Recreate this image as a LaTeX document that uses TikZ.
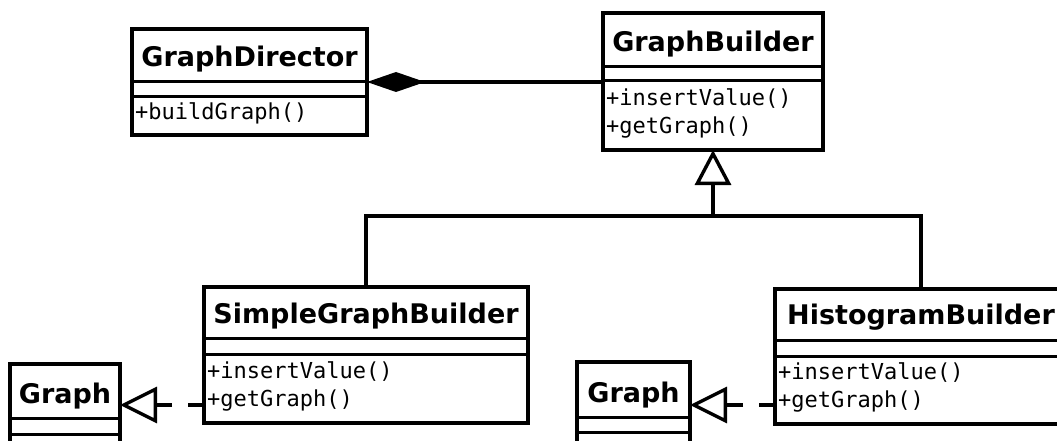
\documentclass[tikz,border=0pt]{standalone}
\usepackage{fontspec}
\setmainfont{DejaVu Sans}
\setmonofont{DejaVu Sans Mono}
\usetikzlibrary{arrows.meta,calc}

\tikzset{
  cls/.style={draw, line width=3.4pt, fill=white, inner sep=0pt, outer sep=0pt, anchor=north west},
  sep/.style={line width=3pt},
  title/.style={font=\bfseries\fontsize{27}{31}\selectfont, inner sep=0pt, anchor=base},
  member/.style={font=\ttfamily\fontsize{22}{26}\selectfont, inner sep=0pt, anchor=base west},
  conn/.style={line width=3.4pt},
  composition/.style={conn, {Diamond[length=58pt, width=20pt]}-},
  generalize/.style={conn, -{Triangle[open, length=35pt, width=36pt, line width=3.4pt]}},
  realize/.style={conn, dash pattern=on 16pt off 16pt,
    -{Triangle[open, length=37pt, width=36pt, line width=3.4pt]}},
}

% horizontal separators of a class box, given as offsets from its top edge
\newcommand\compartments[3]{%
  \draw[sep] ($(#1.north west)+(0,#2)$) -- ($(#1.north east)+(0,#2)$);
  \draw[sep] ($(#1.north west)+(0,#3)$) -- ($(#1.north east)+(0,#3)$);
}

\begin{document}
\begin{tikzpicture}[x=1pt, y=-1pt]
\useasboundingbox (0,0) rectangle (1057,441);
\clip (0,0) rectangle (1057,441);

% class boxes
\node[cls, minimum width=235, minimum height=106] (gd)  at (132,29)  {};
\node[cls, minimum width=220, minimum height=137] (gb)  at (603,13)  {};
\node[cls, minimum width=324, minimum height=136] (sgb) at (204,287) {};
\node[cls, minimum width=292, minimum height=135] (hb)  at (775,289) {};
\node[cls, minimum width=110, minimum height=116] (g1)  at (10,364)  {};
\node[cls, minimum width=113, minimum height=118] (g2)  at (577,362) {};

\compartments{gd}{53}{68}
\compartments{gb}{54}{68}
\compartments{sgb}{51}{67}
\compartments{hb}{51}{67}
\compartments{g1}{54}{70}
\compartments{g2}{55}{70}

% class names
\node[title] (gd-t)  at (249.5,67) {GraphDirector};
\node[title] (gb-t)  at (713,52)   {GraphBuilder};
\node[title] (sgb-t) at (366,323)  {SimpleGraphBuilder};
\node[title] (hb-t)  at (921,324)  {HistogramBuilder};
\node[title] (g1-t)  at (65,403)   {Graph};
\node[title] (g2-t)  at (633.5,402) {Graph};

% operations
\node[member] (gd-m1)  at (135,120) {+buildGraph()};
\node[member] (gb-m1)  at (606,106) {+insertValue()};
\node[member] (gb-m2)  at (606,134) {+getGraph()};
\node[member] (sgb-m1) at (207,378) {+insertValue()};
\node[member] (sgb-m2) at (207,406) {+getGraph()};
\node[member] (hb-m1)  at (778,379) {+insertValue()};
\node[member] (hb-m2)  at (778,407) {+getGraph()};

% composition: director owns a builder
\draw[composition] (gd.east) -- (gd.east -| gb.west);

% generalization tree
\coordinate (join) at ($(gb.south)+(0,66)$);
\draw[generalize] (join) -- (gb.south);
\draw[conn] (sgb.north) |- (join) -| (hb.north);

% realization of the product
\coordinate (r1) at (0,405);
\coordinate (r2) at (0,405);
\draw[realize] (r1 -| sgb.west) -- (r1 -| g1.east);
\draw[realize] (r2 -| hb.west) -- (r2 -| g2.east);
\end{tikzpicture}
\end{document}
